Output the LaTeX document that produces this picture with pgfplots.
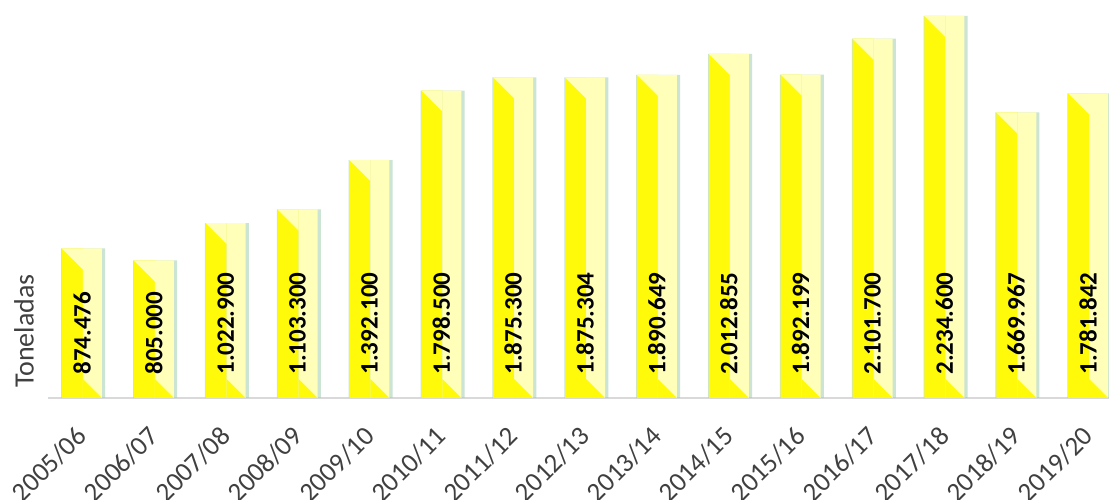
\documentclass[border=0pt]{standalone}
\usepackage{pgfplots}
\pgfplotsset{compat=1.18}
\usepackage{fontspec}
\setmainfont{Carlito}
\definecolor{bright}{RGB}{255,250,10}
\definecolor{lighty}{RGB}{255,255,185}
\definecolor{shadowg}{RGB}{160,205,175}
\definecolor{basegray}{RGB}{217,217,217}
\definecolor{txtgray}{RGB}{64,64,64}
\pgfdeclareplotmark{topbevel}{%
  \pgfsetfillcolor{lighty}%
  \pgfpathmoveto{\pgfpoint{-10pt}{0pt}}%
  \pgfpathlineto{\pgfpoint{0.5pt}{0pt}}%
  \pgfpathlineto{\pgfpoint{0.5pt}{-10.5pt}}%
  \pgfpathclose\pgfusepathqfill}
\pgfdeclareplotmark{botbevel}{%
  \pgfsetfillcolor{bright}%
  \pgfpathmoveto{\pgfpoint{0.5pt}{0pt}}%
  \pgfpathlineto{\pgfpoint{10pt}{0pt}}%
  \pgfpathlineto{\pgfpoint{0.5pt}{9.5pt}}%
  \pgfpathclose\pgfusepathqfill}
\pgfplotstableread{
x y
0 874476
1 805000
2 1022900
3 1103300
4 1392100
5 1798500
6 1875300
7 1875304
8 1890649
9 2012855
10 1892199
11 2101700
12 2234600
13 1669967
14 1781842
}\datatable
\begin{document}
\begin{tikzpicture}
\begin{axis}[
  scale only axis,
  width=530.5pt, height=199pt,
  xmin=-0.473, xmax=14.29,
  ymin=0, ymax=2328000,
  axis line style={draw=none},
  ytick=\empty,
  extra y ticks={0},
  extra y tick labels={},
  extra y tick style={grid=major, major grid style={basegray, line width=0.8pt}},
  xtick={0,...,14},
  xticklabels={2005/06,2006/07,2007/08,2008/09,2009/10,2010/11,2011/12,2012/13,2013/14,2014/15,2015/16,2016/17,2017/18,2018/19,2019/20},
  major tick length=0pt,
  xticklabel style={font=\fontsize{13.5}{14}\selectfont, text=txtgray, yshift=-13pt, xshift=-3.5pt, rotate=45, anchor=north east, inner sep=0pt},
  ylabel={Toneladas},
  ylabel style={font=\fontsize{14}{15}\selectfont, text=txtgray, at={(axis description cs:-0.0226,0.168)}, anchor=center},
  clip=false,
]
\addplot[ybar, bar width=22pt, bar shift=0.6pt, draw=none, fill=shadowg, fill opacity=0.55] table[x=x,y=y] {\datatable};
\addplot[ybar, bar width=10.5pt, bar shift=-4.75pt, draw=none, fill=bright] table[x=x,y=y] {\datatable};
\addplot[ybar, bar width=9.5pt, bar shift=5.25pt, draw=none, fill=lighty] table[x=x,y=y] {\datatable};
\addplot[only marks, mark=topbevel] table[x=x,y=y] {\datatable};
\addplot[only marks, mark=botbevel, point meta=explicit symbolic,
  nodes near coords,
  nodes near coords style={rotate=90, anchor=west, inner xsep=10pt, inner ysep=0pt, font=\bfseries\fontsize{12.5}{13}\selectfont, text=black, xshift=1.5pt}]
  coordinates {
  (0,0) [874.476]
  (1,0) [805.000]
  (2,0) [1.022.900]
  (3,0) [1.103.300]
  (4,0) [1.392.100]
  (5,0) [1.798.500]
  (6,0) [1.875.300]
  (7,0) [1.875.304]
  (8,0) [1.890.649]
  (9,0) [2.012.855]
  (10,0) [1.892.199]
  (11,0) [2.101.700]
  (12,0) [2.234.600]
  (13,0) [1.669.967]
  (14,0) [1.781.842]
  };
\end{axis}
\pgfresetboundingbox
\path (current axis.north west) ++(-24pt,0pt) rectangle ++(554.5pt,-249.5pt);
\end{tikzpicture}
\end{document}
